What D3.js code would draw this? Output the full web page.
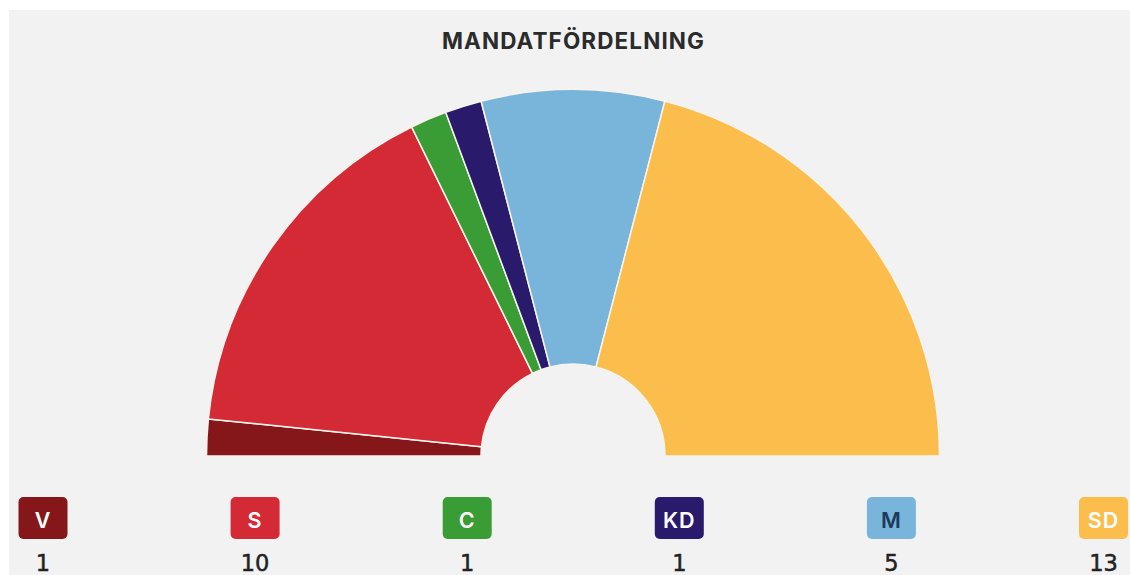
<!DOCTYPE html>
<html><head><meta charset="utf-8">
<script src="https://cdn.jsdelivr.net/npm/d3@7"></script>
<style>html,body{margin:0;padding:0;background:#fff;}</style>
</head><body>
<svg id="chart" width="1130" height="575"></svg>
<script>
const title = "MANDATFÖRDELNING";
const parties = ["V", "S", "C", "KD", "M", "SD"];
const seats = [1, 10, 1, 1, 5, 13];
const colors = ["#85171a", "#d42a36", "#3a9c35", "#2a1a6b", "#79b5db", "#fbbd4c"];
const labelColors = ["#ffffff", "#ffffff", "#ffffff", "#ffffff", "#1d3a5a", "#ffffff"];

const svg = d3.select("#chart");
svg.append("rect").attr("x", 9).attr("y", 10).attr("width", 1121).attr("height", 565).attr("fill", "#f2f2f2");

svg.append("text").attr("x", 573.5).attr("y", 49).attr("text-anchor", "middle")
  .attr("font-family", "Inter, sans-serif").attr("font-weight", 700).attr("font-size", 22.5)
  .attr("letter-spacing", 1.1)
  .attr("fill", "#2b2b2b").text(title);

const cx = 573, cy = 456, rOuter = 366.5, rInner = 92;
const data = parties.map((p, i) => ({party: p, seats: seats[i], color: colors[i], label: labelColors[i]}));
const pie = d3.pie().value(d => d.seats).sort(null).startAngle(-Math.PI / 2).endAngle(Math.PI / 2);
const arc = d3.arc().innerRadius(rInner).outerRadius(rOuter);
const g = svg.append("g").attr("transform", `translate(${cx},${cy})`);
g.selectAll("path").data(pie(data)).join("path")
  .attr("d", arc).attr("fill", d => d.data.color)
  .attr("stroke", "#f7f3ee").attr("stroke-width", 1.5).attr("stroke-linejoin", "round");

const x = d3.scalePoint().domain(parties).range([43, 1103.5]);
const lg = svg.append("g").selectAll("g").data(data).join("g")
  .attr("transform", d => `translate(${x(d.party)},0)`);
lg.append("rect").attr("x", -24.5).attr("y", 497).attr("width", 49).attr("height", 42).attr("rx", 5)
  .attr("fill", d => d.color);
lg.append("text").attr("y", 527.5).attr("text-anchor", "middle")
  .attr("font-family", "Inter, sans-serif").attr("font-weight", 600).attr("font-size", 21.5)
  .attr("letter-spacing", 1)
  .attr("fill", d => d.label).text(d => d.party);
lg.append("text").attr("y", 570.5).attr("text-anchor", "middle")
  .attr("font-family", "DejaVu Sans, sans-serif").attr("font-size", 22.5)
  .attr("stroke", "#222").attr("stroke-width", 0.5)
  .attr("fill", "#222").text(d => d.seats);
</script>
</body></html>
